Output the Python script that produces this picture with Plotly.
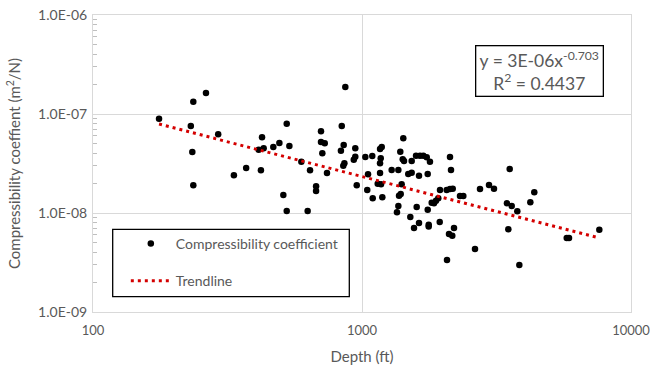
import numpy as np
import plotly.graph_objects as go

depth_ft = [176, 236, 263, 231, 234, 236, 292, 334, 371, 421, 425, 413, 431, 468, 493, 525, 537, 510, 525, 595,
            628, 641, 675, 675, 704, 704, 727, 712, 741, 867, 841, 855, 835, 860, 852, 944, 944, 932, 956, 1029,
            1053, 1046, 1096, 1092, 1167, 1184, 1174, 1167, 1167, 1144, 1177, 1190, 1424, 1388, 1417, 1433, 1530,
            1588, 1643, 1690, 1740, 1789, 1289, 1365, 1486, 1530, 1629, 1755, 1404, 1393, 1373, 1365, 1349, 1512,
            1597, 1561, 1629, 1770, 1770, 1755, 1945, 2070, 2124, 2142, 1950, 2065, 2124, 2174, 1921, 1884, 1852,
            1816, 2314, 2380, 2198, 2106, 2166, 2631, 2746, 2966, 3095, 3541, 3459, 3601, 3779, 3499, 3845, 4224,
            4370, 5768, 5883, 7625]
compressibility = [8.96e-8, 1.33e-7, 1.63e-7, 7.56e-8, 4.13e-8, 1.905e-8, 6.23e-8, 2.40e-8, 2.85e-8, 2.70e-8,
                   5.81e-8, 4.36e-8, 4.50e-8, 4.64e-8, 5.09e-8, 7.98e-8, 4.75e-8, 1.52e-8, 1.047e-8, 3.30e-8,
                   1.047e-8, 2.70e-8, 1.86e-8, 1.67e-8, 6.69e-8, 5.21e-8, 5.06e-8, 4.01e-8, 2.54e-8, 1.874e-7,
                   7.56e-8, 4.86e-8, 4.26e-8, 3.18e-8, 3.00e-8, 4.50e-8, 3.70e-8, 3.45e-8, 1.905e-8, 3.68e-8,
                   2.46e-8, 1.708e-8, 1.408e-8, 3.77e-8, 4.43e-8, 4.64e-8, 3.57e-8, 3.18e-8, 2.54e-8, 1.977e-8,
                   1.95e-8, 1.44e-8, 5.68e-8, 4.16e-8, 3.49e-8, 3.35e-8, 3.35e-8, 3.79e-8, 3.79e-8, 3.79e-8,
                   3.65e-8, 3.30e-8, 2.72e-8, 2.72e-8, 2.48e-8, 2.55e-8, 2.38e-8, 2.48e-8, 1.95e-8, 1.555e-8,
                   1.495e-8, 1.177e-8, 1.016e-8, 9.11e-9, 1.150e-8, 7.05e-9, 7.93e-9, 7.6e-9, 7.3e-9, 1.080e-8,
                   8.11e-9, 3.35e-9, 3.68e-8, 2.72e-8, 1.708e-8, 1.708e-8, 1.748e-8, 1.76e-8, 1.408e-8, 1.331e-8,
                   1.253e-8, 1.271e-8, 1.485e-8, 1.485e-8, 7.05e-9, 6.13e-9, 5.90e-9, 4.33e-9, 1.748e-8, 1.918e-8,
                   1.76e-8, 2.78e-8, 1.253e-8, 1.177e-8, 1.040e-8, 6.84e-9, 2.98e-9, 1.283e-8, 1.618e-8, 5.59e-9,
                   5.59e-9, 6.78e-9]

trend_coef = 3e-6
trend_exp = -0.703
equation_text = "y = 3E-06x<sup>-0.703</sup><br>R<sup>2</sup> = 0.4437"

y_tick_vals = [1e-9, 1e-8, 1e-7, 1e-6]
y_tick_text = ["1.0E-09", "1.0E-08", "1.0E-07", "1.0E-06"]
x_tick_vals = [100, 1000, 10000]
x_tick_text = ["100", "1000", "10000"]

grey = "#595959"
grid = "#d9d9d9"
font = "Lato"

x_tr = np.array([min(depth_ft), max(depth_ft)], dtype=float)
y_tr = trend_coef * x_tr ** trend_exp

minor_vals = [m * 10.0 ** e for e in range(-9, -6) for m in range(2, 10)]

fig = go.Figure()
fig.add_trace(go.Scatter(x=depth_ft, y=compressibility, mode="markers",
                         name="Compressibility coefficient", legendgroup="a",
                         marker=dict(color="black", size=6.5)))
fig.add_trace(go.Scatter(x=x_tr, y=y_tr, mode="lines", name="Trendline", legendgroup="b",
                         line=dict(color="#d40000", width=3, dash="3px,4px")))

fig.update_layout(
    width=650, height=367,
    margin=dict(l=93, r=19, t=15, b=55),
    paper_bgcolor="white", plot_bgcolor="white",
    font=dict(family=font, size=13, color=grey),
    showlegend=True,
    legend=dict(x=0.061, y=0.283, xanchor="left", yanchor="top",
                bgcolor="rgba(0,0,0,0)", borderwidth=0,
                font=dict(family=font, size=14, color=grey),
                itemwidth=40, traceorder="grouped", tracegroupgap=16),
    shapes=[dict(type="rect", xref="paper", yref="paper",
                 x0=0.0366, x1=0.4764, y0=0.0515, y1=0.2785,
                 line=dict(color="black", width=1.3), layer="above")],
    annotations=[dict(text=equation_text, xref="paper", yref="paper", x=0.829, y=0.810,
                      xanchor="center", yanchor="middle", showarrow=False, align="center",
                      font=dict(family=font, size=17.5, color=grey),
                      bordercolor="black", borderwidth=1.3, bgcolor="white",
                      width=122, height=45, borderpad=2)],
)
fig.update_xaxes(type="log", range=[2, 4], tickmode="array", tickvals=x_tick_vals, ticktext=x_tick_text,
                 showgrid=True, gridcolor=grid, gridwidth=1, showline=True, linecolor=grid, mirror=True,
                 ticks="outside", ticklen=6, tickcolor="rgba(0,0,0,0)", zeroline=False,
                 tickfont=dict(size=13), ticklabeloverflow="allow", automargin=False,
                 title=dict(text="Depth (ft)", standoff=14, font=dict(family=font, size=15, color=grey)))
fig.update_yaxes(type="log", range=[-9, -6], tickmode="array", tickvals=y_tick_vals, ticktext=y_tick_text,
                 showgrid=True, gridcolor=grid, gridwidth=1, showline=True, linecolor=grid, mirror=True,
                 ticks="outside", ticklen=2, tickcolor="rgba(0,0,0,0)", zeroline=False,
                 tickfont=dict(size=14), ticklabeloverflow="allow", automargin=False,
                 minor=dict(tickmode="array", tickvals=minor_vals, ticks="inside", ticklen=4,
                            tickcolor="#bfbfbf", showgrid=False),
                 title=dict(text="Compressibility coeffient (m<sup>2</sup>/N)", standoff=13,
                            font=dict(family=font, size=15, color=grey)))

# remove the default 8px page margin so the 650x367 figure fills the window exactly
fig.write_html("out.html", config={"displayModeBar": False},
               post_script="document.body.style.margin='0';")
